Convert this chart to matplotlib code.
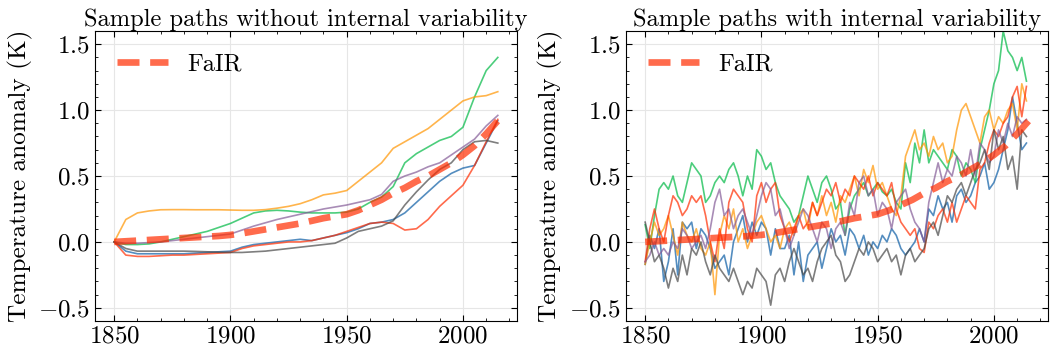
import numpy as np
import matplotlib
matplotlib.use("Agg")
import matplotlib.pyplot as plt
from matplotlib.ticker import MultipleLocator

# smooth sample paths (every 5 years, 1850-2015)
years_smooth = np.arange(1850, 2016, 5)
fair = [0.0, 0.005, 0.01, 0.015, 0.02, 0.025, 0.03, 0.035, 0.04, 0.045, 0.053, 0.065, 0.08, 0.095, 0.11,
        0.125, 0.14, 0.16, 0.18, 0.195, 0.21, 0.24, 0.28, 0.32, 0.37, 0.41, 0.46, 0.5, 0.55, 0.6,
        0.66, 0.73, 0.82, 0.92]
smooth_blue = [0.0, -0.07, -0.09, -0.09, -0.09, -0.09, -0.09, -0.085, -0.08, -0.075, -0.07, -0.04, -0.02, -0.01,
               0.0, 0.01, 0.02, 0.01, 0.03, 0.05, 0.07, 0.1, 0.14, 0.15, 0.17, 0.22, 0.3, 0.38, 0.46, 0.52,
               0.56, 0.58, 0.75, 0.92]
smooth_green = [0.0, -0.02, -0.02, -0.015, 0.0, 0.02, 0.04, 0.06, 0.08, 0.11, 0.14, 0.18, 0.22, 0.235, 0.24,
                0.235, 0.226, 0.22, 0.22, 0.22, 0.226, 0.25, 0.3, 0.34, 0.42, 0.6, 0.67, 0.72, 0.77, 0.8,
                0.87, 1.1, 1.3, 1.4]
smooth_orange = [0.0, 0.17, 0.22, 0.235, 0.244, 0.245, 0.245, 0.244, 0.244, 0.244, 0.242, 0.24, 0.24, 0.245, 0.256,
                 0.27, 0.29, 0.32, 0.357, 0.37, 0.39, 0.46, 0.53, 0.6, 0.71, 0.76, 0.81, 0.86, 0.93, 1.0,
                 1.07, 1.1, 1.11, 1.14]
smooth_red = [0.0, -0.1, -0.11, -0.11, -0.105, -0.1, -0.1, -0.095, -0.09, -0.085, -0.08, -0.05, -0.03, -0.02,
              -0.01, 0.0, 0.0, 0.01, 0.03, 0.05, 0.08, 0.11, 0.14, 0.15, 0.14, 0.09, 0.1, 0.17, 0.27, 0.35,
              0.43, 0.58, 0.76, 0.93]
smooth_purple = [0.0, -0.01, -0.01, -0.005, 0.0, 0.01, 0.02, 0.03, 0.04, 0.05, 0.06, 0.09, 0.12, 0.145, 0.17,
                 0.19, 0.21, 0.23, 0.25, 0.265, 0.28, 0.3, 0.32, 0.36, 0.46, 0.5, 0.53, 0.57, 0.6, 0.66,
                 0.72, 0.78, 0.88, 0.96]
smooth_gray = [0.0, -0.05, -0.07, -0.07, -0.07, -0.07, -0.07, -0.072, -0.075, -0.078, -0.08, -0.08, -0.075,
               -0.07, -0.06, -0.05, -0.04, -0.03, -0.02, -0.01, 0.03, 0.08, 0.1, 0.12, 0.16, 0.28, 0.38,
               0.47, 0.55, 0.6, 0.7, 0.76, 0.77, 0.75]

# noisy sample paths (every 2 years, 1850-2014)
years_noisy = np.arange(1850, 2015, 2)
noisy_blue = [-0.17, 0.05, -0.05, 0.1, -0.3, -0.15, 0.1, -0.25, 0.15, 0.1, 0.15, -0.05, 0.1, 0.05, -0.05,
              -0.2, -0.15, -0.1, -0.25, 0.0, 0.1, 0.2, 0.0, 0.15, 0.05, 0.15, 0.1, -0.1, 0.1, -0.05,
              -0.05, 0.05, -0.25, 0.0, -0.3, -0.1, -0.05, 0.0, -0.2, -0.05, 0.1, 0.0, 0.05, -0.1, 0.1,
              0.05, -0.05, 0.05, -0.1, 0.0, -0.05, 0.05, 0.0, 0.1, 0.05, -0.05, -0.1, -0.05, 0.0, 0.1,
              0.0, 0.25, 0.2, 0.35, 0.25, 0.3, 0.15, 0.35, 0.4, 0.3, 0.35, 0.45, 0.5, 0.6, 0.4,
              0.45, 0.55, 0.7, 0.85, 1.1, 0.9, 0.7, 0.75]
noisy_green = [0.13, -0.05, 0.2, 0.4, 0.45, 0.4, 0.5, 0.35, 0.3, 0.45, 0.6, 0.55, 0.5, 0.3, 0.35,
               0.45, 0.5, 0.45, 0.55, 0.6, 0.5, 0.35, 0.5, 0.4, 0.7, 0.65, 0.55, 0.6, 0.45, 0.35,
               0.3, 0.25, 0.15, 0.2, 0.35, 0.5, 0.4, 0.3, 0.45, 0.5, 0.4, 0.25, 0.3, 0.05, 0.25,
               0.35, 0.4, 0.45, 0.35, 0.4, 0.45, 0.38, 0.35, 0.4, 0.3, 0.25, 0.6, 0.45, 0.75, 0.6,
               0.85, 0.6, 0.7, 0.65, 0.6, 0.55, 0.7, 0.65, 0.5, 0.6, 0.55, 0.45, 0.7, 0.85, 1.0,
               1.2, 1.3, 1.6, 1.45, 1.4, 1.3, 1.4, 1.22]
noisy_orange = [-0.17, 0.0, 0.15, 0.05, 0.1, 0.2, 0.05, -0.1, 0.15, 0.05, 0.0, 0.1, -0.05, -0.1, 0.0,
                -0.4, 0.05, 0.2, 0.1, 0.25, 0.0, 0.1, -0.05, 0.05, 0.15, 0.2, 0.1, 0.0, 0.05, -0.05,
                0.1, 0.15, 0.05, 0.2, 0.25, 0.1, 0.3, 0.2, 0.35, 0.2, 0.3, 0.15, 0.35, 0.3, 0.4,
                0.5, 0.35, 0.55, 0.45, 0.58, 0.4, 0.45, 0.35, 0.25, 0.2, 0.35, 0.65, 0.75, 0.85, 0.7,
                0.75, 0.65, 0.8, 0.7, 0.75, 0.6, 0.65, 0.85, 1.0, 1.05, 0.95, 0.85, 0.75, 0.95, 1.0,
                0.85, 0.95, 0.9, 1.0, 1.05, 0.85, 1.2, 1.07]
noisy_red = [-0.15, 0.1, 0.25, 0.1, 0.0, 0.2, 0.35, 0.3, 0.2, 0.25, 0.35, 0.3, 0.35, 0.2, 0.0,
             -0.15, 0.1, -0.05, 0.3, 0.4, 0.35, 0.3, 0.1, 0.0, 0.35, 0.45, 0.3, 0.4, 0.45, 0.2,
             0.1, 0.0, 0.1, 0.2, 0.1, 0.15, 0.3, 0.2, 0.3, 0.4, 0.35, 0.45, 0.3, 0.4, 0.35,
             0.5, 0.45, 0.4, 0.5, 0.35, 0.45, 0.4, 0.35, 0.45, 0.25, 0.15, 0.1, 0.05, 0.1, -0.05,
             -0.08, 0.15, 0.1, 0.2, 0.25, 0.15, 0.3, 0.15, 0.25, 0.35, 0.3, 0.25, 0.55, 0.6, 0.75,
             0.85, 0.8, 0.9, 0.95, 1.1, 1.18, 0.95, 1.18]
noisy_purple = [-0.15, -0.1, 0.0, -0.1, -0.05, -0.1, 0.0, -0.05, 0.1, 0.05, -0.05, 0.0, 0.05, -0.05, 0.1,
                0.3, 0.4, 0.2, 0.25, 0.1, 0.2, 0.25, 0.15, 0.05, 0.2, 0.35, 0.45, 0.4, 0.2, 0.25,
                0.1, -0.05, 0.05, 0.15, 0.25, 0.2, 0.1, 0.0, 0.15, 0.1, -0.05, 0.1, 0.15, 0.05, 0.3,
                0.2, 0.45, 0.5, 0.35, 0.4, 0.2, 0.3, 0.25, 0.1, 0.3, 0.35, 0.4, 0.25, 0.15, 0.1,
                0.0, 0.3, 0.45, 0.6, 0.45, 0.55, 0.5, 0.65, 0.6, 0.5, 0.7, 0.5, 0.75, 0.7, 0.6,
                0.65, 0.85, 0.75, 0.9, 0.8, 0.95, 0.9, 0.93]
noisy_gray = [0.15, 0.0, -0.15, -0.1, -0.2, -0.35, -0.2, -0.3, -0.1, -0.25, -0.05, -0.1, 0.0, -0.15, -0.25,
              -0.1, -0.2, -0.25, -0.3, -0.2, -0.3, -0.4, -0.3, -0.35, -0.2, -0.25, -0.3, -0.48, -0.25, -0.2,
              -0.3, -0.15, -0.05, -0.15, -0.25, -0.2, -0.3, -0.15, -0.05, 0.0, 0.05, -0.1, -0.15, -0.3, -0.25,
              -0.15, -0.05, -0.1, 0.0, -0.05, -0.15, -0.1, -0.05, -0.15, -0.1, -0.25, -0.1, -0.05, -0.15, -0.1,
              -0.05, 0.1, 0.15, 0.05, 0.2, 0.35, 0.3, 0.4, 0.45, 0.35, 0.45, 0.55, 0.6, 0.7, 0.55,
              0.85, 0.7, 0.8, 0.55, 0.65, 0.4, 0.85, 0.8]

colors = {'blue': '#0C5DA5', 'green': '#00B945', 'orange': '#FF9500',
          'red': '#FF2C00', 'purple': '#845B97', 'gray': '#474747'}

plt.rcParams.update({
    'font.family': 'serif',
    'font.serif': ['cmr10'],
    'mathtext.fontset': 'cm',
    'axes.formatter.use_mathtext': True,
    'font.size': 18,
    'axes.linewidth': 0.8,
    'xtick.direction': 'in', 'ytick.direction': 'in',
    'xtick.top': True, 'ytick.right': True,
    'xtick.major.size': 4, 'ytick.major.size': 4,
    'xtick.minor.size': 2, 'ytick.minor.size': 2,
    'xtick.minor.visible': True, 'ytick.minor.visible': True,
})

fig = plt.figure(figsize=(10.51, 3.51), dpi=100)
ax1 = fig.add_axes([0.0904, 0.0855, 0.4015, 0.826])
ax2 = fig.add_axes([0.5956, 0.0855, 0.4015, 0.826])

smooth = [('blue', smooth_blue), ('green', smooth_green), ('orange', smooth_orange),
          ('red', smooth_red), ('purple', smooth_purple), ('gray', smooth_gray)]
noisy = [('blue', noisy_blue), ('green', noisy_green), ('orange', noisy_orange),
         ('red', noisy_red), ('purple', noisy_purple), ('gray', noisy_gray)]

for name, vals in smooth:
    ax1.plot(years_smooth, vals, color=colors[name], lw=1.2, alpha=0.7)
ax1.set_title('Sample paths without internal variability', fontsize=17.6, pad=4)

for name, vals in noisy:
    ax2.plot(years_noisy, vals, color=colors[name], lw=1.2, alpha=0.7)
ax2.set_title('Sample paths with internal variability', fontsize=17.6, pad=4)

for ax in (ax1, ax2):
    ax.plot(years_smooth, fair, color='#FF2C00', alpha=0.7, lw=4.8, dashes=(3.3, 1.6), label='FaIR')
    ax.set_xlim(1841.75, 2023.25)
    ax.set_ylim(-0.6, 1.6)
    ax.set_xticks([1850, 1900, 1950, 2000])
    ax.set_yticks([-0.5, 0.0, 0.5, 1.0, 1.5])
    ax.xaxis.set_minor_locator(MultipleLocator(10))
    ax.yaxis.set_minor_locator(MultipleLocator(0.1))
    ax.grid(True, color='#e6e6e6', lw=0.8)
    ax.set_ylabel('Temperature anomaly (K)', fontsize=18.2)
    ax.legend(loc='upper left', frameon=False, handlelength=2.1, fontsize=17.5)

fig.savefig('out.png', dpi=100)
